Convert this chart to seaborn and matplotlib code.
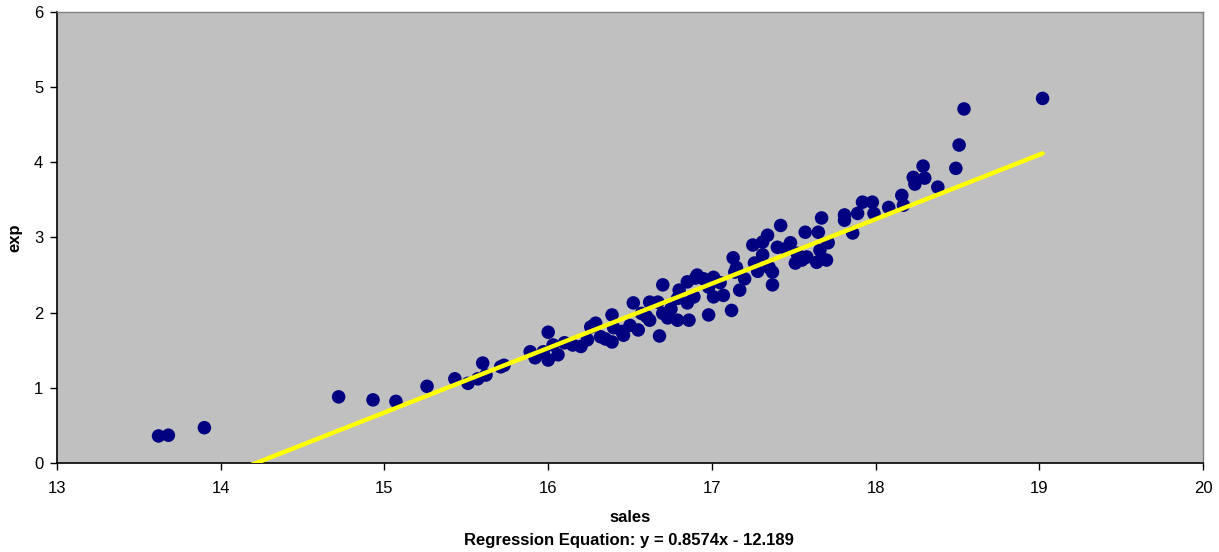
import numpy as np
import pandas as pd
import matplotlib
matplotlib.use("Agg")
import matplotlib.pyplot as plt
import seaborn as sns

# values
sales = [
    13.62, 13.68, 13.90, 14.72, 14.93, 15.07, 15.26, 15.43, 15.51, 15.57,
    15.60, 15.62, 15.71, 15.73, 15.89, 15.92, 16.00, 16.00, 16.03, 16.06,
    15.97, 16.10, 16.15, 16.24, 16.26,
    16.29, 16.32, 16.39, 16.39, 16.40, 16.46, 16.52, 16.55, 16.57, 16.62,
    16.62, 16.67, 16.68, 16.70, 16.70, 16.73, 16.79, 16.79, 16.85, 16.85,
    16.86, 16.91, 16.89, 16.98, 16.98,
    16.90, 17.01, 17.01, 17.07, 17.12, 17.13, 17.14, 17.17, 17.25, 17.26,
    17.31, 17.31, 17.34, 17.37, 17.37, 17.40, 17.42, 17.48, 17.52, 17.51,
    17.57, 17.58,
    17.64, 17.65, 17.67, 17.66, 17.70, 17.71, 17.81, 17.81, 17.86, 17.89,
    17.92, 17.98, 17.99, 18.08, 18.16, 18.17, 18.23,
    18.24, 18.29, 18.30, 18.38, 18.49, 18.51, 18.54, 19.02,
    16.20, 16.35, 16.45, 16.50, 16.60, 16.75, 16.80, 16.95, 17.05, 17.15,
    17.20, 17.28, 17.35, 17.45, 17.55,
]
exp = [
    0.36, 0.37, 0.47, 0.88, 0.84, 0.82, 1.02, 1.12, 1.06, 1.12,
    1.33, 1.17, 1.28, 1.30, 1.48, 1.40, 1.74, 1.37, 1.57, 1.44,
    1.48, 1.60, 1.57, 1.64, 1.81,
    1.86, 1.68, 1.97, 1.61, 1.80, 1.70, 2.13, 1.77, 1.99, 1.90,
    2.14, 2.14, 1.69, 2.37, 1.99, 1.93, 2.19, 1.90, 2.41, 2.13,
    1.90, 2.50, 2.21, 1.97, 2.34,
    2.46, 2.21, 2.47, 2.23, 2.03, 2.73, 2.54, 2.30, 2.90, 2.66,
    2.77, 2.94, 3.03, 2.37, 2.54, 2.87, 3.16, 2.93, 2.79, 2.66,
    3.07, 2.74,
    2.67, 3.07, 3.26, 2.83, 2.70, 2.93, 3.30, 3.23, 3.06, 3.32,
    3.47, 3.47, 3.32, 3.40, 3.56, 3.43, 3.80,
    3.71, 3.95, 3.79, 3.67, 3.92, 4.23, 4.71, 4.85,
    1.55, 1.65, 1.75, 1.83, 1.95, 2.05, 2.30, 2.45, 2.40, 2.60,
    2.45, 2.55, 2.60, 2.85, 2.70,
]
slope = 0.8574
intercept = -12.189
x_ticks = [13, 14, 15, 16, 17, 18, 19, 20]
y_ticks = [0, 1, 2, 3, 4, 5, 6]

df = pd.DataFrame({"sales": sales, "exp": exp})
x_fit = np.array([min(sales), max(sales)])
fit = pd.DataFrame({"sales": x_fit, "exp": slope * x_fit + intercept})

sns.set_style("ticks", {"axes.facecolor": "#C0C0C0", "text.color": "black",
                        "xtick.color": "black", "ytick.color": "black",
                        "axes.labelcolor": "black"})
plt.rcParams["font.family"] = ["Liberation Sans", "DejaVu Sans"]

fig = plt.figure(figsize=(12.19, 5.52), dpi=100)
ax = fig.add_axes([0.0468, 0.1612, 0.9401, 0.8171])

sns.scatterplot(data=df, x="sales", y="exp", ax=ax, color="#000080",
                s=95, edgecolor="none", zorder=2)
sns.lineplot(data=fit, x="sales", y="exp", ax=ax, color="#FFFF00",
             linewidth=3.2, zorder=3)

ax.set_xlim(13, 20)
ax.set_ylim(0, 6)
ax.set_xticks(x_ticks)
ax.set_yticks(y_ticks)
ax.tick_params(axis="both", labelsize=12, length=5, width=1, color="black",
               labelcolor="black", direction="out")
ax.tick_params(axis="x", pad=8)
ax.tick_params(axis="y", pad=5)
for side in ["left", "bottom"]:
    ax.spines[side].set_color("black")
    ax.spines[side].set_linewidth(1.2)
for side in ["top", "right"]:
    ax.spines[side].set_visible(True)
    ax.spines[side].set_color("#808080")
    ax.spines[side].set_linewidth(1.0)

ax.set_xlabel("")
ax.set_ylabel("")
fig.text(630 / 1219, 1 - 518 / 552, "sales", ha="center", va="center",
         fontsize=12, fontweight="bold", color="black")
fig.text(629 / 1219, 1 - 541 / 552, "Regression Equation: y = 0.8574x - 12.189",
         ha="center", va="center", fontsize=12, fontweight="bold", color="black")
fig.text(15 / 1219, 1 - 238 / 552, "exp", ha="center", va="center",
         rotation=90, fontsize=12, fontweight="bold", color="black")

fig.savefig("out.png", dpi=100)
